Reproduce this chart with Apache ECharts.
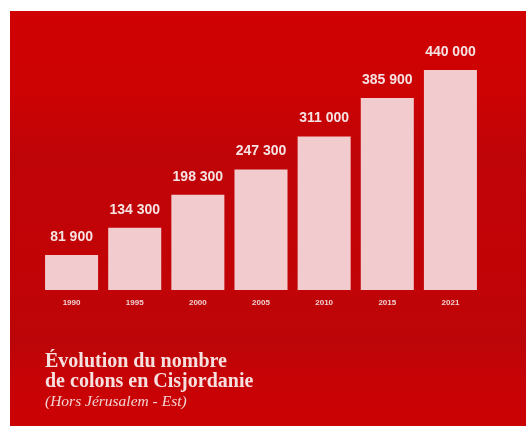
<!DOCTYPE html>
<html>
<head>
<meta charset="utf-8">
<script src="https://cdn.jsdelivr.net/npm/echarts@6/dist/echarts.min.js"></script>
<style>
html,body{margin:0;padding:0;background:#ffffff;}
#chart{width:526px;height:426px;}
</style>
</head>
<body>
<div id="chart"></div>
<script>
var years = ['1990', '1995', '2000', '2005', '2010', '2015', '2021'];
var settlers = [81900, 134300, 198300, 247300, 311000, 385900, 440000];
var titleLines = ['Évolution du nombre', 'de colons en Cisjordanie'];
var subtitle = '(Hors Jérusalem - Est)';

function fmt(v) {
  return String(v).replace(/\B(?=(\d{3})+(?!\d))/g, ' ');
}

var chart = echarts.init(document.getElementById('chart'), null, {renderer: 'canvas'});
chart.setOption({
  animation: false,
  backgroundColor: '#ffffff',
  graphic: [{
    type: 'rect',
    z: -10,
    shape: {x: 10, y: 11, width: 516, height: 415},
    style: {
      fill: new echarts.graphic.LinearGradient(0, 0, 0, 1, [
        {offset: 0, color: '#d00203'},
        {offset: 0.2, color: '#cc0203'},
        {offset: 0.35, color: '#bf0408'},
        {offset: 0.6, color: '#c20306'},
        {offset: 0.8, color: '#bc0508'},
        {offset: 0.88, color: '#c60306'},
        {offset: 1, color: '#cc0204'}
      ])
    }
  }],
  title: {
    text: titleLines.join('\n'),
    subtext: subtitle,
    left: 40,
    top: 347,
    itemGap: 2,
    textStyle: {
      fontFamily: 'Liberation Serif',
      fontWeight: 'bold',
      fontSize: 20,
      lineHeight: 20,
      color: '#f7e0e0'
    },
    subtextStyle: {
      fontFamily: 'Liberation Serif',
      fontStyle: 'italic',
      fontSize: 15.5,
      color: '#f2d4d4'
    }
  },
  grid: {left: 40, right: 44, top: 70, bottom: 136},
  xAxis: {
    type: 'category',
    data: years,
    axisLine: {show: false},
    axisTick: {show: false},
    axisLabel: {
      color: '#efd0d0',
      fontFamily: 'Liberation Sans',
      fontWeight: 'bold',
      fontSize: 8,
      margin: 9
    }
  },
  yAxis: {
    type: 'value',
    min: 14000,
    max: 440000,
    show: false,
    splitLine: {show: false}
  },
  series: [{
    type: 'bar',
    data: settlers,
    barCategoryGap: '16%',
    itemStyle: {color: '#f1cbcd'},
    label: {
      show: true,
      position: 'top',
      distance: 11,
      formatter: function (p) { return fmt(p.value); },
      color: '#f6e2e2',
      fontFamily: 'Liberation Sans',
      fontWeight: 'bold',
      fontSize: 14
    }
  }]
});
</script>
</body>
</html>
